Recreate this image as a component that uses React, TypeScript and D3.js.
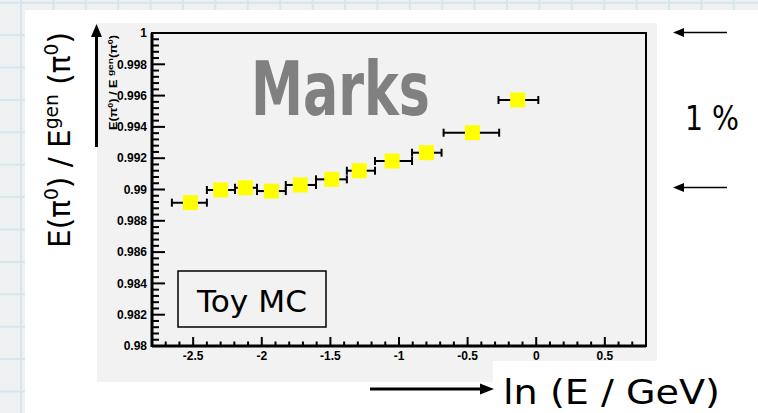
import React from 'react';
import * as d3 from 'd3';

// binned points: ln(E/GeV) bins and the E/Egen ratio
const binCenter = [-2.52, -2.30, -2.12, -1.93, -1.72, -1.49, -1.29, -1.05, -0.80, -0.465, -0.135];
const binLow = [-2.655, -2.40, -2.195, -2.035, -1.825, -1.605, -1.38, -1.175, -0.905, -0.675, -0.275];
const binHigh = [-2.40, -2.195, -2.035, -1.825, -1.605, -1.38, -1.175, -0.905, -0.69, -0.27, 0.015];
const ratio = [0.98916, 0.98997, 0.99011, 0.9899, 0.99029, 0.99065, 0.9912, 0.99182, 0.99235, 0.99363, 0.99572];

const xTicks = [-2.5, -2, -1.5, -1, -0.5, 0, 0.5];
const xTickLabels = ['-2.5', '-2', '-1.5', '-1', '-0.5', '0', '0.5'];
const yTicks = [0.98, 0.982, 0.984, 0.986, 0.988, 0.99, 0.992, 0.994, 0.996, 0.998, 1];
const yTickLabels = ['0.98', '0.982', '0.984', '0.986', '0.988', '0.99', '0.992', '0.994', '0.996', '0.998', '1'];

const W = 758;
const H = 413;
const frame = { left: 152, right: 646, top: 33, bottom: 346 };

const comic = '"DejaVu Sans", "Noto Sans", sans-serif';
const arial = '"Liberation Sans", Arial, sans-serif';

export default function App() {
  const x = d3.scaleLinear().domain([-2.8, 0.8]).range([frame.left, frame.right]);
  const y = d3.scaleLinear().domain([0.98, 1]).range([frame.bottom, frame.top]);

  // minor ticks: 0.1 on x, 0.0004 on y
  const xMinor = d3.range(-28, 9).map(i => i / 10).filter(v => !xTicks.some(t => Math.abs(t - v) < 1e-6));
  const yMinor = d3.range(0, 51).map(i => 0.98 + i * 0.0004).filter(v => !yTicks.some(t => Math.abs(t - v) < 1e-7));

  const gridX = d3.range(0, 25).map(i => 21 + i * 32.4);
  const gridY = d3.range(0, 14).map(i => 2.7 + i * 32.4);

  const points = ratio.map((r, i) => ({ cx: binCenter[i], lo: binLow[i], hi: binHigh[i], r }));

  return (
    <svg width={W} height={H} style={{ position: 'absolute', left: 0, top: 0 }}>
      {/* grid paper behind */}
      <rect x={0} y={0} width={W} height={H} fill="#eff0f1" />
      {gridX.map((gx, i) => (
        <line key={'gx' + i} x1={gx} x2={gx} y1={0} y2={H} stroke="#d5e6ed" strokeWidth={2} />
      ))}
      {gridY.map((gy, i) => (
        <line key={'gy' + i} x1={0} x2={W} y1={gy} y2={gy} stroke="#d5e6ed" strokeWidth={2} />
      ))}
      <rect x={25} y={10} width={W - 25} height={H - 10} fill="#ffffff" />

      {/* ROOT pad */}
      <rect x={97} y={23} width={560} height={359} fill="#f2f2f2" />
      <rect x={493} y={361} width={W - 493} height={H - 361} fill="#ffffff" />

      {/* frame */}
      <rect x={frame.left} y={frame.top} width={frame.right - frame.left} height={frame.bottom - frame.top}
        fill="none" stroke="#000" strokeWidth={2} />
      <line x1={frame.left} x2={frame.left} y1={frame.top} y2={frame.bottom + 1} stroke="#000" strokeWidth={3} />
      <line x1={frame.left} x2={frame.right} y1={frame.bottom} y2={frame.bottom} stroke="#000" strokeWidth={3} />

      {/* y axis ticks */}
      {yTicks.map((t, i) => (
        <g key={'yt' + i}>
          <line x1={frame.left} x2={frame.left + 13} y1={y(t)} y2={y(t)} stroke="#000" strokeWidth={2} />
          <text x={frame.left - 5} y={y(t)} dy="0.35em" textAnchor="end" fontFamily={arial}
            fontWeight="bold" fontSize={12} fill="#000">{yTickLabels[i]}</text>
        </g>
      ))}
      {yMinor.map((t, i) => (
        <line key={'ym' + i} x1={frame.left} x2={frame.left + 7} y1={y(t)} y2={y(t)} stroke="#000" strokeWidth={2} />
      ))}

      {/* x axis ticks */}
      {xTicks.map((t, i) => (
        <g key={'xt' + i}>
          <line x1={x(t)} x2={x(t)} y1={frame.bottom} y2={frame.bottom - 9} stroke="#000" strokeWidth={2} />
          <text x={x(t)} y={360} textAnchor="middle" fontFamily={arial}
            fontWeight="bold" fontSize={12} fill="#000">{xTickLabels[i]}</text>
        </g>
      ))}
      {xMinor.map((t, i) => (
        <line key={'xm' + i} x1={x(t)} x2={x(t)} y1={frame.bottom} y2={frame.bottom - 4.5} stroke="#000" strokeWidth={2} />
      ))}

      {/* small ROOT y title */}
      <text transform="translate(117,130) rotate(-90)" fontFamily={arial} fontWeight="bold" fontSize={10}
        fill="#000" textLength={95} lengthAdjust="spacingAndGlyphs">
        E(π<tspan dy={-4} fontSize={7}>0</tspan><tspan dy={4}>) / E </tspan>
        <tspan dy={-4} fontSize={8}>gen</tspan><tspan dy={4}>(π</tspan>
        <tspan dy={-4} fontSize={7}>0</tspan><tspan dy={4}>)</tspan>
      </text>

      {/* watermark */}
      <text x={251} y={115} fontFamily='"DejaVu Sans Condensed", "DejaVu Sans", sans-serif' fontWeight="bold"
        fontSize={74} fill="#808080" textLength={179} lengthAdjust="spacingAndGlyphs">Marks</text>

      {/* Toy MC box */}
      <rect x={178} y={271} width={148} height={56} fill="none" stroke="#000" strokeWidth={1.5} />
      <text x={197} y={312} fontFamily={comic} fontSize={31} fill="#000"
        textLength={110} lengthAdjust="spacingAndGlyphs">Toy MC</text>

      {/* data points with horizontal error bars */}
      {points.map((p, i) => (
        <g key={'p' + i}>
          <line x1={x(p.lo)} x2={x(p.hi)} y1={y(p.r)} y2={y(p.r)} stroke="#000" strokeWidth={2} />
          <line x1={x(p.lo)} x2={x(p.lo)} y1={y(p.r) - 4} y2={y(p.r) + 4} stroke="#000" strokeWidth={2} />
          <line x1={x(p.hi)} x2={x(p.hi)} y1={y(p.r) - 4} y2={y(p.r) + 4} stroke="#000" strokeWidth={2} />
          <rect x={x(p.cx) - 7.5} y={y(p.r) - 7.5} width={15} height={15} fill="#ffff00" />
        </g>
      ))}

      {/* big handwritten y label */}
      <text transform="translate(70,248) rotate(-90)" fontFamily={comic} fontSize={30} fill="#000"
        textLength={216} lengthAdjust="spacingAndGlyphs">
        E(π<tspan dy={-12} fontSize={19}>0</tspan><tspan dy={12}>) / E</tspan>
        <tspan dy={-12} fontSize={19}>gen</tspan><tspan dy={12}> (π</tspan>
        <tspan dy={-12} fontSize={19}>0</tspan><tspan dy={12}>)</tspan>
      </text>

      {/* vertical arrow next to y axis */}
      <line x1={96.5} x2={96.5} y1={147} y2={33} stroke="#000" strokeWidth={3} />
      <path d="M96.5,24 L91,37 L102,37 Z" fill="#000" />

      {/* 1 % bracket arrows */}
      <line x1={680} x2={727} y1={32.5} y2={32.5} stroke="#000" strokeWidth={1.6} />
      <path d="M673,32.5 L684,28 L684,37 Z" fill="#000" />
      <line x1={680} x2={727} y1={187.5} y2={187.5} stroke="#000" strokeWidth={1.6} />
      <path d="M673,187.5 L684,183 L684,192 Z" fill="#000" />
      <text x={685} y={130} fontFamily={comic} fontSize={34} fill="#000"
        textLength={54} lengthAdjust="spacingAndGlyphs">1 %</text>

      {/* x label with arrow */}
      <line x1={370} x2={482} y1={389} y2={389} stroke="#000" strokeWidth={3} />
      <path d="M494,389 L480,383.5 L480,394.5 Z" fill="#000" />
      <text x={503} y={404} fontFamily={comic} fontSize={34} fill="#000"
        textLength={217} lengthAdjust="spacingAndGlyphs">ln (E / GeV)</text>
    </svg>
  );
}
